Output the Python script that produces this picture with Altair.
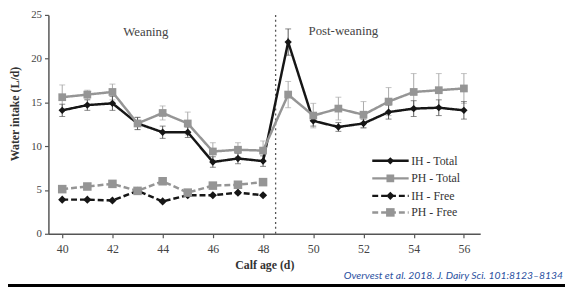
import altair as alt
import pandas as pd

# ---- data ----
days = list(range(40, 57))
ih_total = [14.1, 14.7, 14.9, 12.6, 11.6, 11.6, 8.2, 8.6, 8.3, 21.9, 12.9, 12.2, 12.6, 13.9, 14.3, 14.4, 14.1]
ph_total = [15.6, 15.9, 16.2, 12.6, 13.8, 12.6, 9.4, 9.6, 9.5, 15.9, 13.5, 14.3, 13.6, 15.1, 16.2, 16.4, 16.6]
ih_total_se = [0.7, 0.6, 0.8, 0.7, 0.7, 0.6, 0.6, 0.6, 0.6, 1.5, 0.6, 0.5, 0.5, 0.8, 0.9, 0.9, 1.0]
ph_total_se = [1.4, 0.5, 0.9, 0.7, 0.8, 1.3, 1.0, 0.8, 1.1, 1.5, 1.4, 1.3, 1.5, 1.6, 2.1, 1.9, 1.7]
free_days = list(range(40, 49))
ih_free = [3.9, 3.9, 3.8, 4.9, 3.7, 4.4, 4.4, 4.7, 4.4]
ph_free = [5.1, 5.4, 5.7, 4.9, 6.0, 4.7, 5.5, 5.6, 5.9]

series_names = ["IH - Total", "PH - Total", "IH - Free", "PH - Free"]
y_ticks = [0, 5, 10, 15, 20, 25]
x_ticks = list(range(40, 57))
weaning_day = 48.5
citation = "Overvest et al. 2018. J. Dairy Sci. 101:8123\u20138134"

# ---- tables ----
rows = []
for s, xs_, ys_ in [("IH - Total", days, ih_total), ("PH - Total", days, ph_total),
                    ("IH - Free", free_days, ih_free), ("PH - Free", free_days, ph_free)]:
    for d, v in zip(xs_, ys_):
        rows.append({"series": s, "day": d, "value": v})
df = pd.DataFrame(rows)

err_ih = pd.DataFrame({"day": days, "lo": [v - e for v, e in zip(ih_total, ih_total_se)],
                       "hi": [v + e for v, e in zip(ih_total, ih_total_se)]})
err_ph = pd.DataFrame({"day": days, "lo": [v - e for v, e in zip(ph_total, ph_total_se)],
                       "hi": [v + e for v, e in zip(ph_total, ph_total_se)]})

leg = pd.DataFrame({"series": series_names,
                    "x0": [52.35] * 4, "x1": [53.8] * 4, "xm": [53.07] * 4, "xt": [53.9] * 4,
                    "ly": [8.33, 6.33, 4.33, 2.44]})

ann = pd.DataFrame({"label": ["Weaning", "Post-weaning"], "day": [43.33, 51.2], "value": [23.0, 23.1]})

BLACK = "#161616"
GRAY = "#959595"
SERIF = "Liberation Serif"

xs = alt.Scale(domain=[39.45, 56.65], nice=False, zero=False)
ys = alt.Scale(domain=[0, 25], nice=False)
col = alt.Scale(domain=series_names, range=[BLACK, GRAY, BLACK, GRAY])
dash = alt.Scale(domain=series_names, range=[[1, 0], [1, 0], [6, 3], [6, 3]])
shp = alt.Scale(domain=series_names, range=["diamond", "square", "diamond", "square"])
siz = alt.Scale(domain=series_names, range=[55, 75, 55, 75])

x_axis = alt.Axis(values=x_ticks, labelExpr="datum.value % 2 == 0 ? datum.label : ''",
                  title="Calf age (d)", titleY=35, titleBaseline="alphabetic",
                  tickSize=4, labelPadding=6, labelFontSize=12)
y_axis = alt.Axis(values=y_ticks, title="Water intake (L/d)", tickSize=4, labelPadding=3,
                  labelFontSize=11, titleX=-30, titleY=100, titleBaseline="alphabetic",
                  titleAlign="center", titleAngle=-90)

X = lambda f: alt.X(f, scale=xs, title="Calf age (d)")
Y = lambda f: alt.Y(f, scale=ys, title="Water intake (L/d)")

base = alt.Chart(df)

vline = alt.Chart(pd.DataFrame({"d": [weaning_day], "y0": [0], "y1": [25]})).mark_rule(
    color="#555", strokeDash=[2, 3], strokeWidth=1.3
).encode(x=alt.X("d:Q", scale=xs, axis=x_axis), y=alt.Y("y0:Q", scale=ys, axis=y_axis), y2="y1:Q")

def errs(d, c):
    e = alt.Chart(d)
    r = e.mark_rule(color=c, strokeWidth=1).encode(x=X("day:Q"), y=Y("lo:Q"), y2="hi:Q")
    t1 = e.mark_tick(color=c, orient="horizontal", size=6, thickness=1).encode(x=X("day:Q"), y=Y("hi:Q"))
    t2 = e.mark_tick(color=c, orient="horizontal", size=6, thickness=1).encode(x=X("day:Q"), y=Y("lo:Q"))
    return [r, t1, t2]

lines = base.mark_line(strokeWidth=2.5).encode(
    x=X("day:Q"), y=Y("value:Q"),
    color=alt.Color("series:N", scale=col, legend=None),
    strokeDash=alt.StrokeDash("series:N", scale=dash, legend=None),
    detail="series:N", order=alt.Order("day:Q"))

points = base.mark_point(filled=True, opacity=1).encode(
    x=X("day:Q"), y=Y("value:Q"),
    color=alt.Color("series:N", scale=col, legend=None),
    shape=alt.Shape("series:N", scale=shp, legend=None),
    size=alt.Size("series:N", scale=siz, legend=None))

lg = alt.Chart(leg)
leg_lines = lg.mark_rule(strokeWidth=2.5).encode(
    x=X("x0:Q"), x2="x1:Q", y=Y("ly:Q"),
    color=alt.Color("series:N", scale=col, legend=None),
    strokeDash=alt.StrokeDash("series:N", scale=dash, legend=None))
leg_pts = lg.mark_point(filled=True, opacity=1).encode(
    x=X("xm:Q"), y=Y("ly:Q"),
    color=alt.Color("series:N", scale=col, legend=None),
    shape=alt.Shape("series:N", scale=shp, legend=None),
    size=alt.Size("series:N", scale=siz, legend=None))
leg_txt = lg.mark_text(align="left", baseline="middle", font=SERIF, fontSize=12, color="#333").encode(
    x=X("xt:Q"), y=Y("ly:Q"), text="series:N")

ann_txt = alt.Chart(ann).mark_text(font=SERIF, fontSize=13, color="#444", baseline="middle").encode(
    x=X("day:Q"), y=Y("value:Q"), text="label:N")

cite = alt.Chart(pd.DataFrame({"t": [citation]})).mark_text(
    font="Lato", fontStyle="italic", fontSize=10.5, color="#2a50a0", align="right", baseline="alphabetic"
).encode(x=alt.value(522), y=alt.value(268), text="t:N")

bar = alt.Chart(pd.DataFrame({"a": [0]})).mark_rule(color="#000", strokeWidth=3).encode(
    x=alt.value(-41), x2=alt.value(524), y=alt.value(274.5))

chart = alt.layer(
    vline, *errs(err_ph, "#aaaaaa"), *errs(err_ih, "#555555"), lines, points,
    leg_lines, leg_pts, leg_txt, ann_txt, cite, bar
).properties(
    width=438, height=222,
    autosize=alt.AutoSizeParams(type="none"),
    padding={"left": 41, "top": 5, "right": 86, "bottom": 54},
).configure_view(stroke=None).configure_axis(
    grid=False, domainColor="#555", domainWidth=1.5, tickColor="#555", tickWidth=1.2,
    labelFont=SERIF, labelColor="#444", titleFont=SERIF, titleFontWeight="bold",
    titleFontSize=12, titleColor="#333"
)

chart.save("out.html", embed_options={"renderer": "svg", "actions": False})
